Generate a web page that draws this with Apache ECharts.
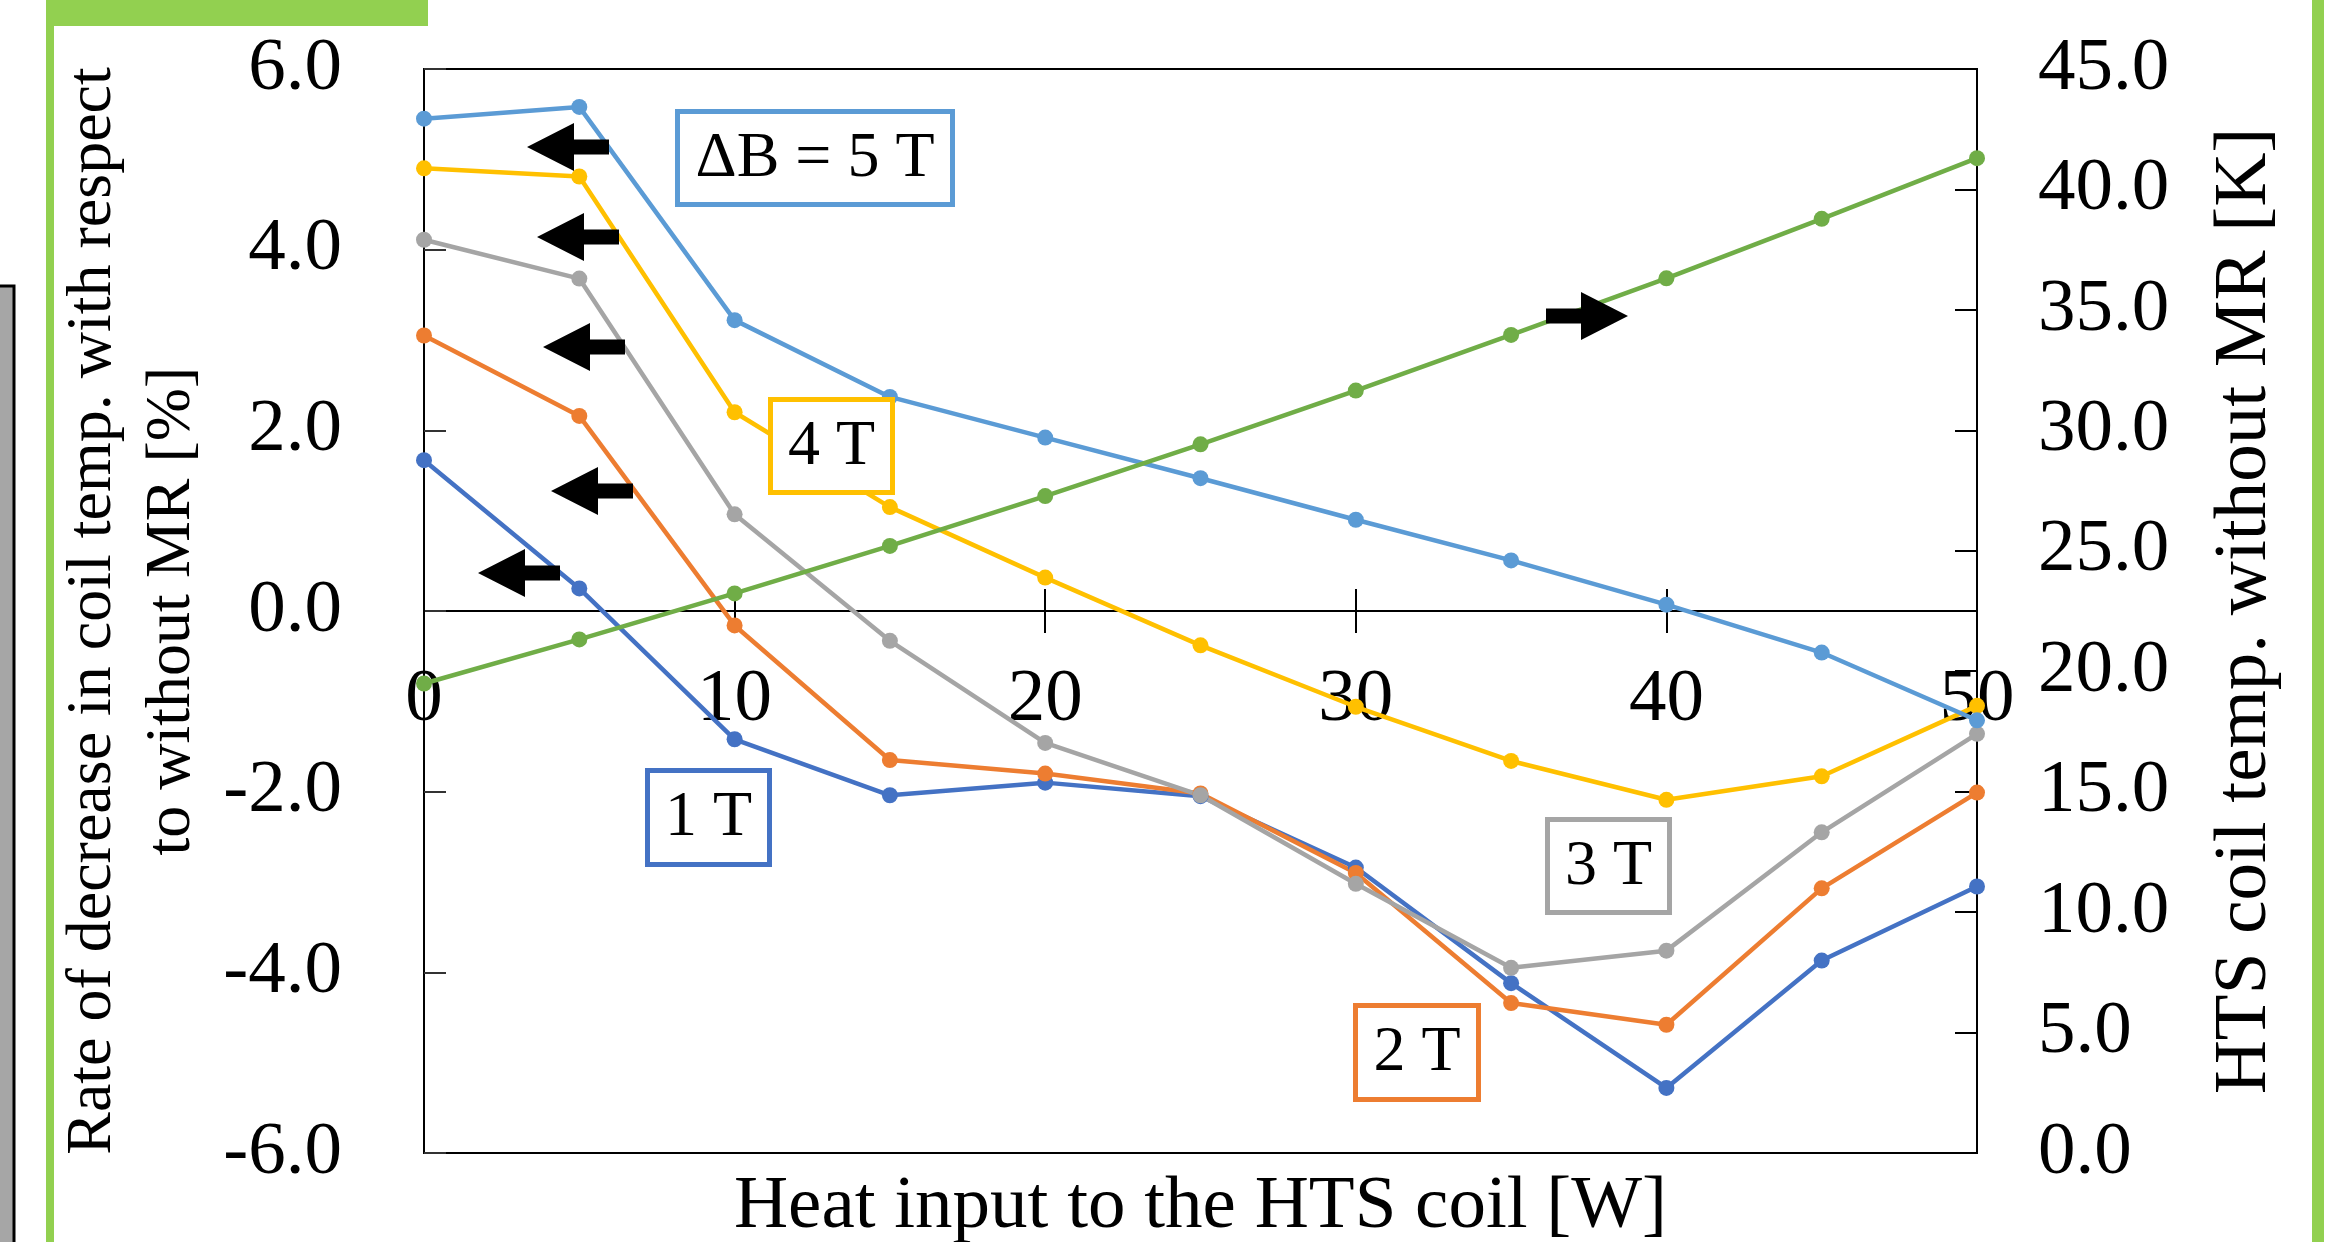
<!DOCTYPE html>
<html>
<head>
<meta charset="utf-8">
<script src="https://cdn.jsdelivr.net/npm/echarts@6/dist/echarts.min.js"></script>
<style>
html, body { margin: 0; padding: 0; background: #fff; }
#main { width: 2330px; height: 1242px; }
</style>
</head>
<body>
<div id="main"></div>
<script>
// heat input [W] on the x axis
var heatInput = [0, 5, 10, 15, 20, 25, 30, 35, 40, 45, 50];
// rate of decrease in coil temp. [%] (left axis), one list per dB
var rate1T = [1.67, 0.25, -1.42, -2.04, -1.90, -2.05, -2.84, -4.12, -5.28, -3.87, -3.05];
var rate2T = [3.05, 2.16, -0.16, -1.65, -1.80, -2.02, -2.90, -4.34, -4.58, -3.07, -2.01];
var rate3T = [4.11, 3.68, 1.07, -0.33, -1.46, -2.04, -3.02, -3.95, -3.76, -2.45, -1.36];
var rate4T = [4.90, 4.81, 2.20, 1.15, 0.37, -0.38, -1.06, -1.66, -2.09, -1.83, -1.05];
var rate5T = [5.45, 5.58, 3.22, 2.37, 1.92, 1.47, 1.01, 0.56, 0.07, -0.46, -1.21];
// HTS coil temp. without MR [K] (right axis)
var coilTemp = [19.49, 21.32, 23.23, 25.20, 27.27, 29.42, 31.65, 33.96, 36.31, 38.78, 41.30];
// box labels
var boxLabels = ['\u0394B = 5 T', '4 T', '3 T', '2 T', '1 T'];

var FONT = 'Liberation Serif';

var myChart = echarts.init(document.getElementById('main'));

function pairs(vals) {
	return heatInput.map(function (x, i) { return [x, vals[i]]; });
}

function lineSeries(name, vals, color, yIdx) {
	return {
		name: name,
		type: 'line',
		xAxisIndex: 0,
		yAxisIndex: yIdx,
		data: pairs(vals),
		symbol: 'circle',
		symbolSize: 16,
		clip: false,
		lineStyle: { color: color, width: 4.5 },
		itemStyle: { color: color },
		z: 3
	};
}

// boxed label (x0,y0)-(x1,y1) in px
function box(label, color, x0, y0, x1, y1) {
	return {
		type: 'group',
		children: [{
			type: 'rect', z: 100,
			shape: { x: x0 + 2.5, y: y0 + 2.5, width: x1 - x0 - 5, height: y1 - y0 - 5 },
			style: { fill: '#fff', stroke: color, lineWidth: 5 }
		}, {
			type: 'text', z: 101,
			x: (x0 + x1) / 2, y: (y0 + y1) / 2 + 1,
			style: { text: label, fontSize: 64, fontFamily: FONT, fill: '#000', align: 'center', verticalAlign: 'middle' }
		}]
	};
}

// black block arrow, tip at (tx,ty); dir -1 = points left, 1 = points right
function arrow(tx, ty, dir) {
	var pts = [[0, 0], [47, -24], [47, -7.5], [82, -7.5], [82, 7.5], [47, 7.5], [47, 24]];
	return {
		type: 'polygon', z: 100,
		shape: { points: pts.map(function (p) { return [tx - dir * p[0], ty + p[1]]; }) },
		style: { fill: '#000' }
	};
}

var labelFmt = function (v) { return v.toFixed(1); };

option = {
	backgroundColor: '#fff',
	animation: false,
	grid: {
		left: 424, right: 353, top: 69, bottom: 89,
		show: true, borderColor: '#000', borderWidth: 2,
		containLabel: false, outerBoundsMode: 'none'
	},
	xAxis: [{
		type: 'value', min: 0, max: 50, interval: 10,
		name: 'Heat input to the HTS coil [W]',
		nameLocation: 'middle', nameGap: 17, nameMoveOverlap: false,
		nameTextStyle: { fontFamily: FONT, fontSize: 75, color: '#000' },
		axisLine: { onZero: true, onZeroAxisIndex: 0, lineStyle: { color: '#000', width: 2 } },
		axisTick: { show: true, inside: false, length: 22, lineStyle: { color: '#000', width: 2 } },
		// labels sit just under the zero line, well above the plot bottom
		axisLabel: { fontFamily: FONT, fontSize: 75, color: '#000', margin: -490, showMinLabel: true, showMaxLabel: true },
		splitLine: { show: false }
	}, {
		// upper half of the crossing ticks on the zero line
		type: 'value', min: 0, max: 50, interval: 10, position: 'top',
		axisLine: { onZero: true, onZeroAxisIndex: 0, lineStyle: { color: '#000', width: 2 } },
		axisTick: { show: true, inside: false, length: 22, lineStyle: { color: '#000', width: 2 } },
		axisLabel: { show: false },
		splitLine: { show: false }
	}],
	yAxis: [{
		type: 'value', min: -6, max: 6, interval: 2, position: 'left',
		name: 'Rate of decrease in coil temp. with respect\nto without MR [%]',
		nameLocation: 'middle', nameRotate: 90, nameGap: 212, nameMoveOverlap: false,
		nameTextStyle: { fontFamily: FONT, fontSize: 64, lineHeight: 79, color: '#000', align: 'center' },
		axisLine: { show: true, onZero: false, lineStyle: { color: '#000', width: 2 } },
		axisTick: { show: true, inside: true, length: 22, lineStyle: { color: '#333', width: 2 } },
		axisLabel: { fontFamily: FONT, fontSize: 75, color: '#000', margin: 82, formatter: labelFmt, showMinLabel: true, showMaxLabel: true },
		splitLine: { show: false }
	}, {
		type: 'value', min: 0, max: 45, interval: 5, position: 'right',
		name: 'HTS coil temp. without MR [K]',
		nameLocation: 'middle', nameRotate: 90, nameGap: 231, nameMoveOverlap: false,
		nameTextStyle: { fontFamily: FONT, fontSize: 75, color: '#000' },
		axisLine: { show: true, onZero: false, lineStyle: { color: '#000', width: 2 } },
		axisTick: { show: true, inside: true, length: 22, lineStyle: { color: '#000', width: 2 } },
		axisLabel: { fontFamily: FONT, fontSize: 75, color: '#000', margin: 61, formatter: labelFmt, showMinLabel: true, showMaxLabel: true },
		splitLine: { show: false }
	}],
	series: [
		lineSeries('1 T', rate1T, '#4472C4', 0),
		lineSeries('2 T', rate2T, '#ED7D31', 0),
		lineSeries('3 T', rate3T, '#A5A5A5', 0),
		lineSeries('4 T', rate4T, '#FFC000', 0),
		lineSeries('5 T', rate5T, '#5B9BD5', 0),
		lineSeries('coil temp', coilTemp, '#70AD47', 1)
	],
	graphic: [
		// slide frame pieces around the chart
		{ type: 'rect', z: 0, shape: { x: 46, y: 0, width: 382, height: 26 }, style: { fill: '#92D050' } },
		{ type: 'rect', z: 0, shape: { x: 46, y: 0, width: 8, height: 1242 }, style: { fill: '#92D050' } },
		{ type: 'rect', z: 0, shape: { x: 2312, y: 0, width: 12, height: 1242 }, style: { fill: '#92D050' } },
		{ type: 'rect', z: 0, shape: { x: -5, y: 286, width: 19, height: 1000 }, style: { fill: '#A6A6A6', stroke: '#000', lineWidth: 3 } },
		box(boxLabels[0], '#5B9BD5', 675, 109, 955, 207),
		box(boxLabels[1], '#FFC000', 768, 397, 895, 495),
		box(boxLabels[2], '#A5A5A5', 1545, 817, 1672, 915),
		box(boxLabels[3], '#ED7D31', 1353, 1003, 1481, 1102),
		box(boxLabels[4], '#4472C4', 645, 768, 772, 867),
		arrow(527, 147, -1),
		arrow(537, 237, -1),
		arrow(543, 347, -1),
		arrow(551, 491, -1),
		arrow(478, 573, -1),
		arrow(1628, 316, 1)
	]
};

myChart.setOption(option);
</script>
</body>
</html>
